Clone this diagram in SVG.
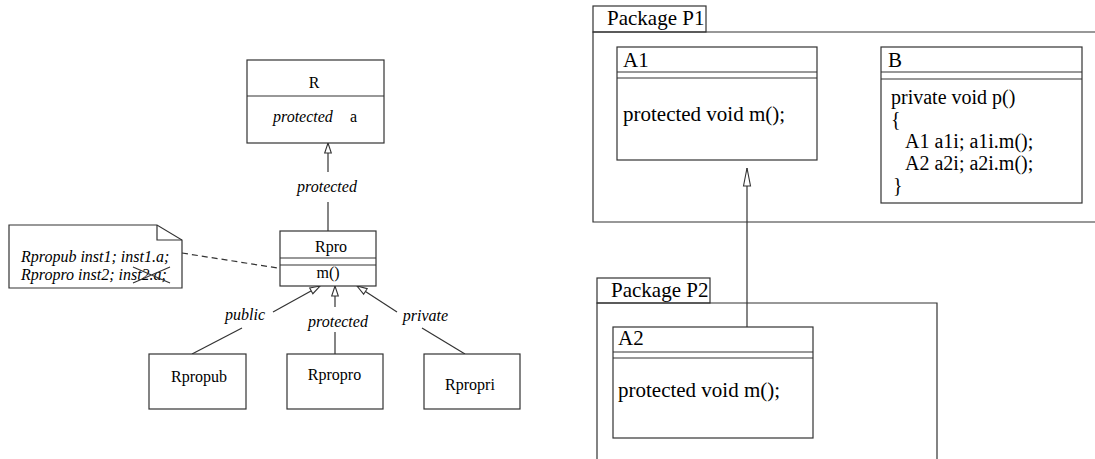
<svg xmlns="http://www.w3.org/2000/svg" width="1095" height="459" viewBox="0 0 1095 459">
<style>
.box{fill:#fff;stroke:#333;stroke-width:1.2}
.ln{fill:none;stroke:#333;stroke-width:1.2}
.t{font-family:"Liberation Serif","Times New Roman",serif;fill:#000}
.s{font-size:16px}
.b{font-size:21px}
.c{font-size:20px}
.i{font-style:italic}
.m{text-anchor:middle}
</style>
<defs>
<marker id="tri" markerUnits="userSpaceOnUse" markerWidth="12" markerHeight="8" refX="10" refY="3.3" orient="auto" overflow="visible">
<path d="M0,0 L10,3.3 L0,6.6 z" fill="#fff" stroke="#333" stroke-width="1.1"/>
</marker>
<marker id="tri2" markerUnits="userSpaceOnUse" markerWidth="20" markerHeight="8" refX="18" refY="3.5" orient="auto" overflow="visible">
<path d="M0,0 L18,3.5 L0,7 z" fill="#fff" stroke="#333" stroke-width="1.1"/>
</marker>
</defs>

<g id="connectors">
<line class="ln" x1="328" y1="172" x2="328" y2="143" marker-end="url(#tri)"/>
<line class="ln" x1="328" y1="202" x2="328" y2="231"/>
<text class="t s i m" x="327" y="192">protected</text>
<line class="ln" x1="192" y1="354" x2="242" y2="328"/>
<line class="ln" x1="273" y1="312" x2="320" y2="286" marker-end="url(#tri)"/>
<text class="t s i m" x="245" y="320">public</text>
<line class="ln" x1="335" y1="354" x2="335" y2="332"/>
<line class="ln" x1="335" y1="307" x2="335" y2="286" marker-end="url(#tri)"/>
<text class="t s i m" x="338" y="327">protected</text>
<line class="ln" x1="465" y1="354" x2="422" y2="328"/>
<line class="ln" x1="397" y1="312" x2="357" y2="286" marker-end="url(#tri)"/>
<text class="t s i m" x="425.5" y="321">private</text>
<line class="ln" x1="182" y1="253" x2="303" y2="272" stroke-dasharray="6,4"/>
<line class="ln" x1="747" y1="327" x2="747" y2="168" marker-end="url(#tri2)"/>
</g>

<g id="R">
<rect class="box" x="247" y="60" width="137" height="83"/>
<line class="ln" x1="247" y1="96" x2="384" y2="96"/>
<text class="t s m" x="314" y="88">R</text>
<text class="t s" x="273" y="122"><tspan font-style="italic">protected</tspan><tspan x="350">a</tspan></text>
</g>

<g id="Rpro">
<rect class="box" x="280" y="231" width="96" height="55"/>
<line class="ln" x1="280" y1="258" x2="376" y2="258"/>
<line class="ln" x1="280" y1="265" x2="376" y2="265"/>
<text class="t s m" x="331" y="252">Rpro</text>
<text class="t s m" x="328" y="278">m()</text>
</g>

<g id="note">
<path class="box" d="M9,225 H157 L182,240 V288 H9 z"/>
<path class="ln" d="M157,225 V240 H182"/>
<text class="t s i" x="21" y="262">Rpropub inst1; inst1.a;<tspan x="21" dy="18">Rpropro inst2; inst2.a;</tspan></text>
<path class="ln" d="M133,267 L170,283 M133,283 L170,267" stroke="#000"/>
</g>

<g id="Rpropub">
<rect class="box" x="149" y="354" width="97" height="55"/>
<text class="t s m" x="199" y="382">Rpropub</text>
</g>
<g id="Rpropro">
<rect class="box" x="287" y="354" width="96" height="55"/>
<text class="t s m" x="334.5" y="380">Rpropro</text>
</g>
<g id="Rpropri">
<rect class="box" x="424" y="354" width="96" height="55"/>
<text class="t s m" x="470" y="390">Rpropri</text>
</g>

<g id="P1">
<rect class="box" x="593" y="6" width="113" height="26"/>
<path class="ln" d="M1100,32 H593 V222 H1100"/>
<text class="t b" x="607" y="25">Package P1</text>
</g>

<g id="A1">
<rect class="box" x="617" y="47" width="200" height="113"/>
<line class="ln" x1="617" y1="72" x2="817" y2="72"/>
<line class="ln" x1="617" y1="78" x2="817" y2="78"/>
<text class="t b" x="623" y="67">A1</text>
<text class="t b" x="623" y="121">protected void m();</text>
</g>

<g id="B">
<rect class="box" x="881" y="47" width="201" height="156"/>
<line class="ln" x1="881" y1="72" x2="1082" y2="72"/>
<line class="ln" x1="881" y1="79" x2="1082" y2="79"/>
<text class="t b" x="888" y="67">B</text>
<text class="t c" x="891" y="104">private void p()</text>
<text class="t c" x="891" y="126">{</text>
<text class="t c" x="905" y="148">A1 a1i; a1i.m();</text>
<text class="t c" x="905" y="170">A2 a2i; a2i.m();</text>
<text class="t c" x="893" y="192">}</text>
</g>

<g id="P2">
<rect class="box" x="597" y="278" width="113" height="25"/>
<path class="ln" d="M597,460 V303 H937 V460"/>
<text class="t b" x="611" y="297">Package P2</text>
</g>

<g id="A2">
<rect class="box" x="613" y="327" width="200" height="111"/>
<line class="ln" x1="613" y1="352" x2="813" y2="352"/>
<line class="ln" x1="613" y1="358" x2="813" y2="358"/>
<text class="t b" x="618" y="345">A2</text>
<text class="t b" x="618" y="397">protected void m();</text>
</g>
</svg>
